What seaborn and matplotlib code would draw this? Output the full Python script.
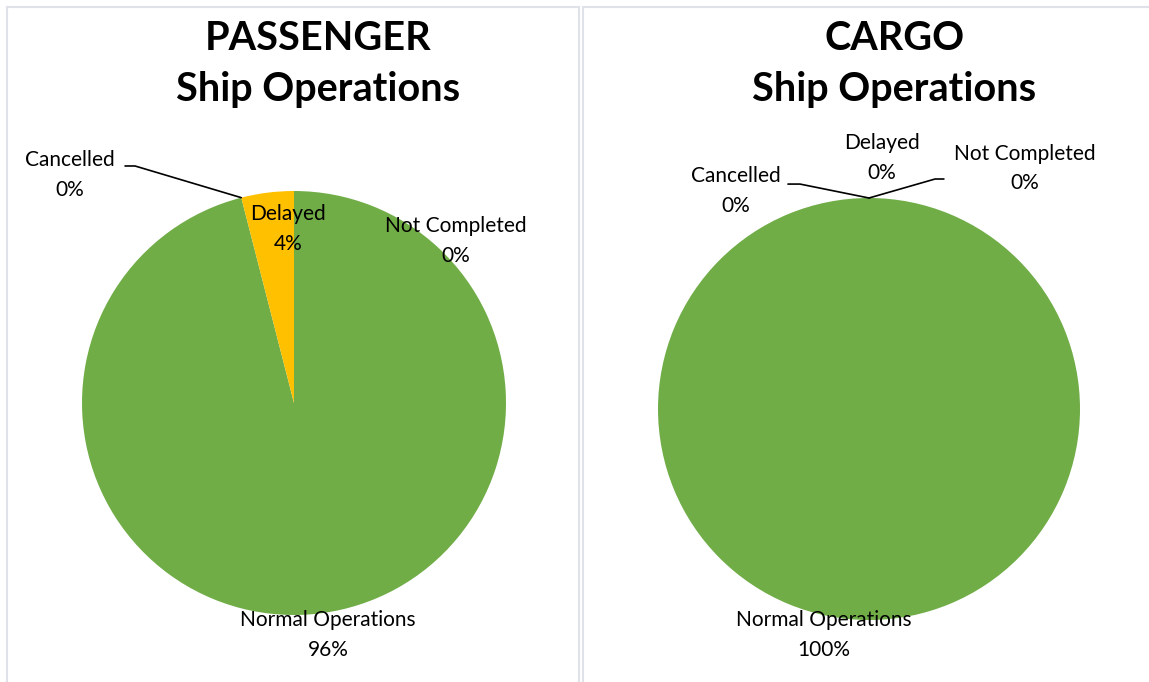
import matplotlib
matplotlib.use("Agg")
import matplotlib.pyplot as plt
import seaborn as sns
import numpy as np
from matplotlib.patches import Rectangle

sns.set_theme(style="white")
plt.rcParams['font.family'] = ['Lato', 'DejaVu Sans']
plt.rcParams['text.color'] = 'black'

# ---- data ----
categories = ["Normal Operations", "Cancelled", "Not Completed", "Delayed"]
passenger_values = [96, 0, 0, 4]
cargo_values = [100, 0, 0, 0]
titles = ["PASSENGER\nShip Operations", "CARGO\nShip Operations"]
colors = {"Normal Operations": "#70AD47", "Cancelled": "#4472C4",
          "Not Completed": "#A5A5A5", "Delayed": "#FFC000"}

W, H = 1149, 682
fig = plt.figure(figsize=(W / 100, H / 100), dpi=100)

# panel borders
border = "#DFE3E9"
for (x0, x1) in [(6.5, 579), (583, 1160)]:
    fig.patches.append(Rectangle((x0 / W, -0.05), (x1 - x0) / W, (H - 6.5) / H + 0.05,
                                 transform=fig.transFigure, fill=False,
                                 edgecolor=border, linewidth=1.5))

def px_axes(cx, cy, r):
    return fig.add_axes([(cx - r) / W, 1 - (cy + r) / H, 2 * r / W, 2 * r / H])

def fmt(v):
    return f"{int(round(v))}%"

label_fs = 15
label_ls = 1.6
title_fs = 28.5
title_ls = 1.45

# ---- Passenger ----
ax1 = px_axes(294, 403, 212)
vals = passenger_values
w1, _ = ax1.pie(vals, colors=[colors[c] for c in categories], startangle=90,
                counterclock=False, radius=1, wedgeprops=dict(linewidth=0))
ax1.set_xlim(-1, 1); ax1.set_ylim(-1, 1); ax1.set_aspect("equal"); ax1.axis("off")
pos1 = {"Cancelled": (-1.057, 1.075), "Delayed": (-0.028, 0.82),
        "Not Completed": (0.764, 0.764), "Normal Operations": (0.16, -1.094)}
for c, v in zip(categories, vals):
    x, y = pos1[c]
    ax1.text(x, y, f"{c}\n{fmt(v)}", ha="center", va="center", fontsize=label_fs,
             linespacing=label_ls, color="black", clip_on=False)
th = np.deg2rad(w1[categories.index("Cancelled")].theta1)
ax1.plot([-0.797, -0.75, np.cos(th)], [1.118, 1.118, np.sin(th)], color="black",
         lw=1.2, clip_on=False)
ax1.text(0.113, 1.599, titles[0], ha="center", va="center", fontsize=title_fs,
         fontweight="bold", linespacing=title_ls, color="black")

# ---- Cargo ----
ax2 = px_axes(869, 409, 211)
vals = cargo_values
w2, _ = ax2.pie(vals, colors=[colors[c] for c in categories], startangle=90,
                counterclock=False, radius=1, wedgeprops=dict(linewidth=0))
ax2.set_xlim(-1, 1); ax2.set_ylim(-1, 1); ax2.set_aspect("equal"); ax2.axis("off")
pos2 = {"Cancelled": (-0.63, 1.033), "Delayed": (0.062, 1.19),
        "Not Completed": (0.74, 1.14), "Normal Operations": (-0.213, -1.07)}
for c, v in zip(categories, vals):
    x, y = pos2[c]
    ax2.text(x, y, f"{c}\n{fmt(v)}", ha="center", va="center", fontsize=label_fs,
             linespacing=label_ls, color="black", clip_on=False)
th = np.deg2rad(w2[categories.index("Cancelled")].theta1)
ax2.plot([-0.384, -0.327, np.cos(th)], [1.066, 1.066, np.sin(th)], color="black",
         lw=1.2, clip_on=False)
ax2.plot([np.cos(th), 0.313, 0.355], [np.sin(th), 1.09, 1.09], color="black",
         lw=1.2, clip_on=False)
ax2.text(0.12, 1.635, titles[1], ha="center", va="center", fontsize=title_fs,
         fontweight="bold", linespacing=title_ls, color="black")

fig.savefig("out.png", dpi=100, facecolor="white")
